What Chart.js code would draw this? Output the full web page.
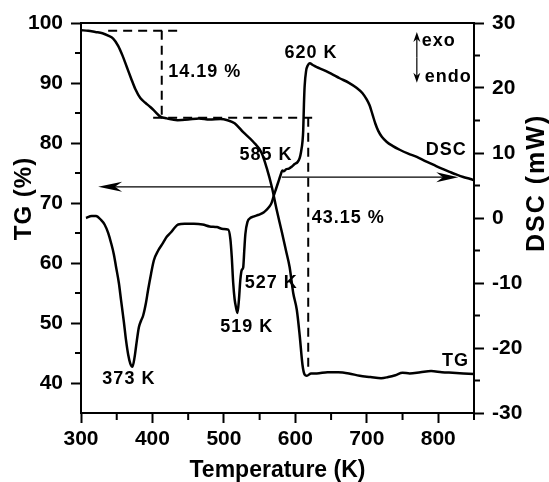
<!DOCTYPE html>
<html>
<head>
<meta charset="utf-8">
<script src="https://cdn.jsdelivr.net/npm/chart.js@4.4.1/dist/chart.umd.min.js"></script>
<style>
html, body { margin: 0; padding: 0; background: #fff; }
canvas { display: block; }
</style>
</head>
<body>
<canvas id="chart" width="549" height="482"></canvas>
<script>
(function() {

    // TG curve: temperature (K) and remaining mass (%)
    var tgTemp = [300, 310, 320, 330, 338, 345, 352, 358, 364, 370, 376, 383, 390, 397, 404, 411,
        420, 435, 450, 465, 480, 495, 505, 515, 527, 541, 553, 560, 567, 574, 581, 587, 592, 597,
        602, 606, 610, 613, 616, 622, 630, 645, 660, 675, 690, 705, 720, 730, 740, 750, 760, 775,
        790, 805, 820, 835, 850];
    var tgMass = [98.8, 98.7, 98.5, 98.3, 97.9, 97.4, 96.2, 94.6, 92.7, 90.8, 89.0, 87.5, 86.7, 86.0, 85.2, 84.4,
        84.1, 83.8, 83.9, 84.1, 83.9, 84.0, 83.8, 83.3, 81.8, 80.2, 78.3, 75.8, 72.7, 68.8, 65.2, 62.0, 59.3, 55.0,
        52.2, 48.0, 43.0, 41.4, 41.2, 41.6, 41.6, 41.8, 41.8, 41.6, 41.2, 41.0, 40.8, 41.0, 41.3, 41.7, 41.6, 41.8,
        42.0, 41.8, 41.7, 41.6, 41.5];

    // DSC curve: temperature (K) and heat flow (mW)
    var dscTemp = [307, 315, 321, 328, 333, 338, 342, 346, 349, 353, 356, 360, 363, 366, 369, 372,
        375, 377, 381, 384, 387, 391, 394, 398, 402, 408, 415, 420, 426, 431, 436, 445, 458, 470,
        480, 490, 499, 506, 509, 511, 513, 515, 517, 519, 521, 523, 525, 527, 528.5, 530, 533, 537,
        541, 546, 551, 556, 560, 564, 567, 570, 573, 576, 579, 582, 584, 587, 591, 595, 599, 603,
        606, 608, 610, 611, 612, 613, 615, 617.5, 620, 625, 630, 639, 650, 662, 675, 686, 694, 700,
        704, 708, 712, 716, 721, 728, 736, 746, 758, 770, 781, 793, 805, 816, 825, 835, 845, 850];
    var dscHeat = [0.0, 0.3, 0.3, -0.3, -1.0, -2.3, -3.8, -5.6, -7.5, -10.0, -12.6, -16.0, -18.8, -21.0, -22.4, -22.9,
        -21.4, -19.8, -16.8, -15.8, -15.0, -13.0, -11.0, -8.6, -6.5, -5.0, -3.8, -2.9, -2.2, -1.5, -1.0, -0.9, -0.9, -1.0,
        -1.3, -1.4, -1.7, -1.8, -3.2, -6.0, -10.0, -12.5, -13.8, -14.6, -12.6, -9.5, -8.0, -7.6, -5.0, -2.5, -0.6, 0.0,
        0.2, 0.4, 0.6, 0.9, 1.3, 1.8, 2.4, 3.5, 4.5, 5.5, 6.5, 7.3, 7.2, 7.5, 7.6, 7.9, 8.3, 8.6,
        9.2, 10.2, 11.8, 13.5, 17.5, 20.3, 22.6, 23.5, 23.8, 23.5, 23.2, 22.8, 22.2, 21.5, 20.8, 20.0, 19.2, 18.2,
        17.3, 15.9, 14.5, 13.4, 12.5, 11.7, 11.1, 10.5, 9.9, 9.4, 8.8, 8.2, 7.6, 7.1, 6.7, 6.3, 6.0, 5.8];

    // Dashed mass-loss steps (K, %)
    var stepTemp = [[338, 442], [413, 413], [401, 631], [618, 618]];
    var stepMass = [[98.7, 98.7], [98.7, 84.2], [84.2, 84.2], [84.2, 41.8]];

    var xTicks = [300, 400, 500, 600, 700, 800];
    var xMinor = [350, 450, 550, 650, 750, 850];
    var tgTicks = [40, 50, 60, 70, 80, 90, 100];
    var tgMinor = [45, 55, 65, 75, 85, 95];
    var dscTicks = [-30, -20, -10, 0, 10, 20, 30];
    var dscMinor = [-25, -15, -5, 5, 15, 25];

    var FONT = "'Liberation Sans', Arial, sans-serif";

    // text notes, anchored in data space
    var notes = [
        {text: "14.19 %", x: 422, y: 91.8, axis: "y", align: "left"},
        {text: "620 K", x: 622, y: 95.0, axis: "y", align: "center"},
        {text: "585 K", x: 559, y: 78.0, axis: "y", align: "center"},
        {text: "DSC", x: 811, y: 78.8, axis: "y", align: "center"},
        {text: "43.15 %", x: 623, y: 67.5, axis: "y", align: "left"},
        {text: "527 K", x: 529, y: 56.7, axis: "y", align: "left"},
        {text: "519 K", x: 532, y: 49.3, axis: "y", align: "center"},
        {text: "373 K", x: 367, y: 40.7, axis: "y", align: "center"},
        {text: "TG", x: 824, y: 43.7, axis: "y", align: "center"},
        {text: "exo", x: 777, y: 27.2, axis: "y2", align: "left"},
        {text: "endo", x: 781, y: 21.7, axis: "y2", align: "left"}
    ];

    function points(xs, ys) {
        return xs.map(function(x, i) { return {x: x, y: ys[i]}; });
    }

    function setTicks(values) {
        return function(axis) {
            axis.ticks = values.map(function(v) { return {value: v}; });
        };
    }

    function arrow(ctx, x1, y1, x2, y2, len, half) {
        var a = Math.atan2(y2 - y1, x2 - x1);
        var c = Math.cos(a), s = Math.sin(a);
        ctx.beginPath();
        ctx.moveTo(x1, y1);
        ctx.lineTo(x2 - c * len * 0.6, y2 - s * len * 0.6);
        ctx.stroke();
        ctx.beginPath();
        ctx.moveTo(x2, y2);
        ctx.lineTo(x2 - c * len - s * half, y2 - s * len + c * half);
        ctx.lineTo(x2 - c * len * 0.7, y2 - s * len * 0.7);
        ctx.lineTo(x2 - c * len + s * half, y2 - s * len - c * half);
        ctx.closePath();
        ctx.fill();
    }

    var extras = {
        id: "extras",
        afterDatasetsDraw: function(chart) {
            var ctx = chart.ctx;
            var area = chart.chartArea;
            var sx = chart.scales.x, sy = chart.scales.y, sd = chart.scales.y2;
            ctx.save();
            ctx.strokeStyle = "#000";
            ctx.fillStyle = "#000";

            // top frame line and minor ticks
            ctx.lineWidth = 2;
            ctx.beginPath();
            ctx.moveTo(area.left - 1, area.top);
            ctx.lineTo(area.right + 1, area.top);
            xMinor.forEach(function(v) {
                var p = sx.getPixelForValue(v);
                ctx.moveTo(p, area.bottom);
                ctx.lineTo(p, area.bottom + 7);
            });
            tgMinor.forEach(function(v) {
                var p = sy.getPixelForValue(v);
                ctx.moveTo(area.left, p);
                ctx.lineTo(area.left - 6, p);
            });
            dscMinor.forEach(function(v) {
                var p = sd.getPixelForValue(v);
                ctx.moveTo(area.right, p);
                ctx.lineTo(area.right + 6, p);
            });
            ctx.stroke();

            // arrows pointing each curve to its axis
            ctx.lineWidth = 1.2;
            arrow(ctx, sx.getPixelForValue(567), sy.getPixelForValue(72.7),
                sx.getPixelForValue(324), sy.getPixelForValue(72.7), 24, 5);
            arrow(ctx, sx.getPixelForValue(581), sy.getPixelForValue(74.3),
                sx.getPixelForValue(828), sy.getPixelForValue(74.3), 22, 5);
            var ex = sx.getPixelForValue(770);
            var eTop = sd.getPixelForValue(28.6), eBot = sd.getPixelForValue(20.8);
            var eMid = (eTop + eBot) / 2;
            arrow(ctx, ex, eMid, ex, eTop, 10, 3.5);
            arrow(ctx, ex, eMid, ex, eBot, 10, 3.5);

            // notes
            ctx.font = "bold 18px " + FONT;
            ctx.textBaseline = "middle";
            if ("letterSpacing" in ctx) ctx.letterSpacing = "1px";
            notes.forEach(function(n) {
                var scale = n.axis === "y2" ? sd : sy;
                ctx.textAlign = n.align;
                ctx.fillText(n.text, sx.getPixelForValue(n.x), scale.getPixelForValue(n.y));
            });

            // side axis titles
            ctx.textAlign = "center";
            ctx.font = "bold 24px " + FONT;
            ctx.save();
            ctx.translate(24, area.top + (area.bottom - area.top) * 0.45);
            ctx.rotate(-Math.PI / 2);
            ctx.fillText("TG (%)", 0, 0);
            ctx.restore();
            ctx.font = "bold 25px " + FONT;
            if ("letterSpacing" in ctx) ctx.letterSpacing = "2px";
            ctx.save();
            ctx.translate(537, area.top + (area.bottom - area.top) * 0.41);
            ctx.rotate(-Math.PI / 2);
            ctx.fillText("DSC (mW)", 0, 0);
            ctx.restore();
            ctx.restore();
        }
    };

    var tickFont = {family: FONT, size: 21, weight: "bold"};
    var grid = {drawOnChartArea: false, drawTicks: true, tickLength: 10, tickWidth: 2, color: "#000"};
    var border = {display: true, color: "#000", width: 2};

    var datasets = [
        {data: points(tgTemp, tgMass), yAxisID: "y"},
        {data: points(dscTemp, dscHeat), yAxisID: "y2"}
    ].map(function(d) {
        d.borderColor = "#000";
        d.borderWidth = 2.5;
        d.pointRadius = 0;
        d.cubicInterpolationMode = "monotone";
        return d;
    });
    stepTemp.forEach(function(t, i) {
        datasets.push({
            data: points(t, stepMass[i]),
            yAxisID: "y",
            borderColor: "#000",
            borderWidth: 2,
            borderDash: [9, 6],
            pointRadius: 0
        });
    });

    new Chart(document.getElementById("chart"), {
        type: "line",
        data: {datasets: datasets},
        options: {
            responsive: false,
            animation: false,
            layout: {padding: {top: 23, left: 0, right: 0, bottom: 0}},
            plugins: {legend: {display: false}, tooltip: {enabled: false}},
            scales: {
                x: {
                    type: "linear", position: "bottom", min: 300, max: 850,
                    afterBuildTicks: setTicks(xTicks),
                    afterFit: function(s) { s.height = 69; },
                    grid: grid, border: border,
                    ticks: {font: tickFont, color: "#000", padding: 4},
                    title: {display: true, text: "Temperature (K)", color: "#000", padding: 0,
                        font: {family: FONT, size: 23, weight: "bold", lineHeight: 1.0}}
                },
                y: {
                    type: "linear", position: "left", min: 35, max: 100,
                    afterBuildTicks: setTicks(tgTicks),
                    afterFit: function(s) { s.width = 81; },
                    grid: grid, border: border,
                    ticks: {font: tickFont, color: "#000", padding: 8}
                },
                y2: {
                    type: "linear", position: "right", min: -30, max: 30,
                    afterBuildTicks: setTicks(dscTicks),
                    afterFit: function(s) { s.width = 75; },
                    grid: grid, border: border,
                    ticks: {font: tickFont, color: "#000", padding: 8}
                }
            }
        },
        plugins: [extras]
    });

})();
</script>
</body>
</html>
